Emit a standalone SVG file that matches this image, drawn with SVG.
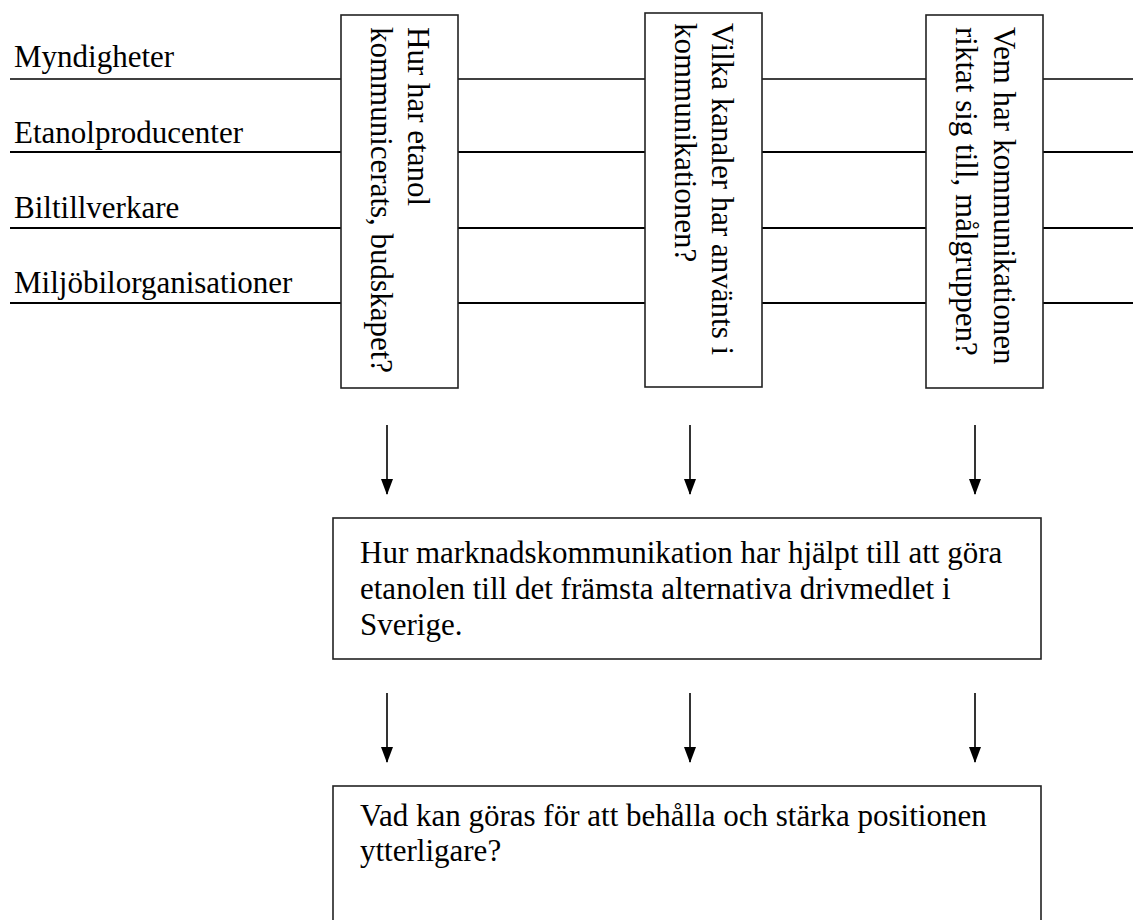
<svg xmlns="http://www.w3.org/2000/svg" width="1133" height="920" viewBox="0 0 1133 920">
<style>
  .t { font-family: "Liberation Serif", "Times New Roman", serif; font-size: 31px; fill: #000; }
  .box { fill: #fff; stroke: #222; stroke-width: 1.6; }
  .ln { stroke: #000; stroke-width: 2; fill: none; }
  .ln1 { stroke: #000; stroke-width: 1.3; fill: none; }
  .arr { stroke: #000; stroke-width: 1.6; fill: none; marker-end: url(#ah); }
</style>
<defs>
  <marker id="ah" markerWidth="16" markerHeight="12" refX="15" refY="6" orient="auto" markerUnits="userSpaceOnUse" viewBox="0 0 16 12">
    <path d="M0,0 L16,6 L0,12 Z" fill="#000"/>
  </marker>
</defs>
<rect width="1133" height="920" fill="#fff"/>

<g id="actors">
  <text class="t" x="14" y="67">Myndigheter</text>
  <text class="t" x="14" y="143">Etanolproducenter</text>
  <text class="t" x="14" y="218">Biltillverkare</text>
  <text class="t" x="14" y="293">Miljöbilorganisationer</text>
</g>

<g id="connectors">
  <line class="ln1" x1="10" y1="79" x2="341" y2="79"/>
  <line class="ln1" x1="458" y1="79" x2="645" y2="79"/>
  <line class="ln1" x1="762" y1="79" x2="926" y2="79"/>
  <line class="ln1" x1="1043" y1="79" x2="1133" y2="79"/>
  <line class="ln" x1="10" y1="152" x2="341" y2="152"/>
  <line class="ln" x1="458" y1="152" x2="645" y2="152"/>
  <line class="ln" x1="762" y1="152" x2="926" y2="152"/>
  <line class="ln" x1="1043" y1="152" x2="1133" y2="152"/>
  <line class="ln" x1="10" y1="228" x2="341" y2="228"/>
  <line class="ln" x1="458" y1="228" x2="645" y2="228"/>
  <line class="ln" x1="762" y1="228" x2="926" y2="228"/>
  <line class="ln" x1="1043" y1="228" x2="1133" y2="228"/>
  <line class="ln" x1="10" y1="303" x2="341" y2="303"/>
  <line class="ln" x1="458" y1="303" x2="645" y2="303"/>
  <line class="ln" x1="762" y1="303" x2="926" y2="303"/>
  <line class="ln" x1="1043" y1="303" x2="1133" y2="303"/>
  <line class="arr" x1="387" y1="425" x2="387" y2="494"/>
  <line class="arr" x1="690" y1="425" x2="690" y2="494"/>
  <line class="arr" x1="975" y1="425" x2="975" y2="494"/>
  <line class="arr" x1="387" y1="693" x2="387" y2="762"/>
  <line class="arr" x1="690" y1="693" x2="690" y2="762"/>
  <line class="arr" x1="975" y1="693" x2="975" y2="762"/>
</g>

<g id="q1">
  <rect class="box" x="341" y="15" width="117" height="373"/>
  <text class="t" transform="translate(408,27) rotate(90)">Hur har etanol</text>
  <text class="t" transform="translate(371,27) rotate(90)">kommunicerats, budskapet?</text>
</g>

<g id="q2">
  <rect class="box" x="645" y="13" width="117" height="374"/>
  <text class="t" transform="translate(712,23) rotate(90)">Vilka kanaler har använts i</text>
  <text class="t" transform="translate(675,23) rotate(90)">kommunikationen?</text>
</g>

<g id="q3">
  <rect class="box" x="926" y="15" width="117" height="373"/>
  <text class="t" transform="translate(994,27) rotate(90)">Vem har kommunikationen</text>
  <text class="t" transform="translate(956,27) rotate(90)">riktat sig till, målgruppen?</text>
</g>

<g id="result">
  <rect class="box" x="333" y="518" width="708" height="141"/>
  <text class="t" x="360" y="563">Hur marknadskommunikation har hjälpt till att göra</text>
  <text class="t" x="360" y="599">etanolen till det främsta alternativa drivmedlet i</text>
  <text class="t" x="360" y="635">Sverige.</text>
</g>

<g id="future">
  <rect class="box" x="333" y="786" width="708" height="160"/>
  <text class="t" x="360" y="826">Vad kan göras för att behålla och stärka positionen</text>
  <text class="t" x="360" y="861">ytterligare?</text>
</g>
</svg>
